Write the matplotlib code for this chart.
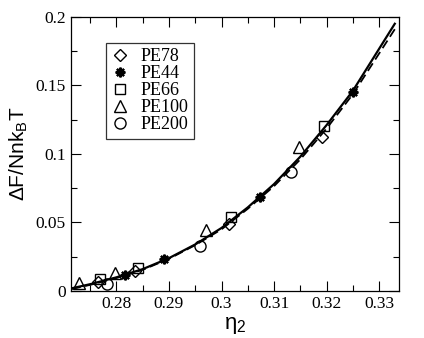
import matplotlib
matplotlib.use("Agg")
import matplotlib.pyplot as plt
from matplotlib.ticker import MultipleLocator, FormatStrFormatter

# =========================
# data
# =========================
pe78_x = [0.2765, 0.2836, 0.3014, 0.3191]
pe78_y = [0.0068, 0.0145, 0.0490, 0.1123]

pe44_x = [0.2817, 0.2890, 0.3073, 0.3250]
pe44_y = [0.0116, 0.0230, 0.0688, 0.1452]

pe66_x = [0.2768, 0.2841, 0.3019, 0.3196]
pe66_y = [0.0085, 0.0169, 0.0539, 0.1203]

pe100_x = [0.2728, 0.2797, 0.2971, 0.3147]
pe100_y = [0.0055, 0.0128, 0.0447, 0.1050]

pe200_x = [0.2782, 0.2959, 0.3132]
pe200_y = [0.0051, 0.0326, 0.0870]

curve_x = [0.2715, 0.275, 0.28, 0.285, 0.29, 0.295, 0.30, 0.305,
           0.31, 0.315, 0.32, 0.325, 0.3330]
solid_y = [0.002, 0.005, 0.010, 0.016, 0.024, 0.034, 0.046, 0.061,
           0.078, 0.098, 0.121, 0.146, 0.195]
dashed_y = [0.0015, 0.0045, 0.0095, 0.0155, 0.0235, 0.0335, 0.0450, 0.0600,
            0.0765, 0.0960, 0.1185, 0.1435, 0.1910]

serif = "Liberation Serif"
sans = "Liberation Sans"

fig = plt.figure(figsize=(4.24, 3.38), dpi=100)
ax = fig.add_axes([0.167, 0.139, 0.774, 0.811])

ax.plot(curve_x, solid_y, color="black", lw=1.6, zorder=2)
ax.plot(curve_x, dashed_y, color="black", lw=1.3, ls=(0, (5, 2.5)), zorder=2)

mk = dict(ls="none", mfc="none", mec="black", mew=1.0, ms=7, zorder=3)
ax.plot(pe78_x, pe78_y, marker="D", label="PE78", **dict(mk, ms=6))
ax.plot(pe44_x, pe44_y, marker=(8, 2, 0), label="PE44", **dict(mk, mew=1.6, ms=7))
ax.plot(pe66_x, pe66_y, marker="s", label="PE66", **mk)
ax.plot(pe100_x, pe100_y, marker="^", label="PE100", **dict(mk, ms=8))
ax.plot(pe200_x, pe200_y, marker="o", label="PE200", **dict(mk, ms=8))

ax.set_xlim(0.2713, 0.3338)
ax.set_ylim(0, 0.2)

ax.xaxis.set_major_locator(MultipleLocator(0.01))
ax.xaxis.set_minor_locator(MultipleLocator(0.005))
ax.yaxis.set_major_locator(MultipleLocator(0.05))
ax.yaxis.set_minor_locator(MultipleLocator(0.025))
ax.xaxis.set_major_formatter(FormatStrFormatter("%g"))
ax.yaxis.set_major_formatter(FormatStrFormatter("%g"))

ax.tick_params(which="both", direction="in", top=True, right=True,
               width=0.8, labelsize=12.5)
ax.tick_params(which="major", length=7)
ax.tick_params(which="minor", length=4)
for lab in ax.get_xticklabels() + ax.get_yticklabels():
    lab.set_fontfamily(serif)

for s in ax.spines.values():
    s.set_linewidth(0.9)

ax.set_xlabel(r"$\mathregular{\eta_2}$", fontsize=16, family=sans, labelpad=2)
ax.set_ylabel(r"$\mathregular{\Delta F/Nnk_B T}$", fontsize=15, family=sans,
              labelpad=4)

leg = ax.legend(loc="upper left", bbox_to_anchor=(0.107, 0.905),
                prop={"family": serif, "size": 13}, frameon=True,
                fancybox=False, edgecolor="black", handlelength=1.0,
                handletextpad=0.6, labelspacing=0.0, borderpad=0.3,
                borderaxespad=0)
leg.get_frame().set_linewidth(0.9)

fig.savefig("out.png", dpi=100)
